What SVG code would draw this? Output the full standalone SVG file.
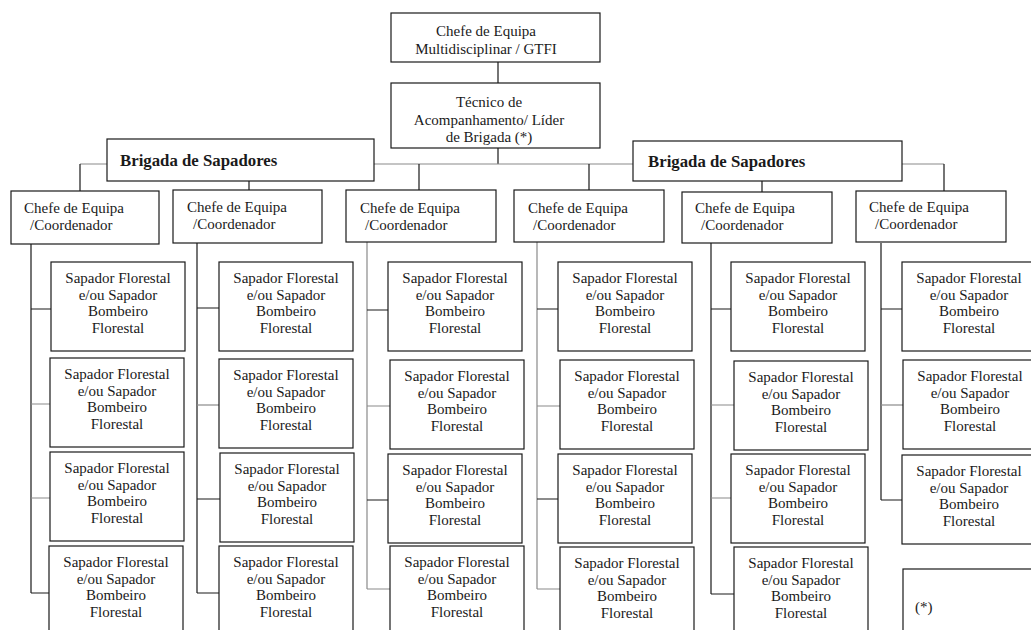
<svg xmlns="http://www.w3.org/2000/svg" width="1031" height="630" viewBox="0 0 1031 630">
<style>
.bx{fill:#fff;stroke:#1a1a1a;stroke-width:1.2}
.t{font-family:"Liberation Serif","Times New Roman",serif;font-size:15px;fill:#1a1a1a}
.m{text-anchor:middle}
.b{font-weight:bold;font-size:16.8px}
.k{stroke:#1a1a1a;stroke-width:1.2;fill:none}
.g{stroke:#8a8a8a;stroke-width:1.2;fill:none}
</style>
<rect width="1031" height="630" fill="#fff"/>
<g id="connectors">
<path class="k" d="M498 62V83M498 148V164"/>
<path class="g" d="M80 164H944"/>
<path class="k" d="M80 164V191M249 181V190M419 164V190M589 164V190M762 181V192M944 164V191"/>
<path class="k" d="M31 244V593M31 309H51M31 593H49"/>
<path class="g" d="M31 404H50M31 498H50"/>
<path class="k" d="M197 243V593M197 308H219M197 499H220M197 593H219"/>
<path class="g" d="M197 405H219"/>
<path class="g" d="M367 242V589M367 406H390M367 589H390"/>
<path class="k" d="M367 310H388M367 500H388"/>
<path class="g" d="M537 242V589M537 406H560M537 589H560"/>
<path class="k" d="M537 309H558M537 499H558"/>
<path class="k" d="M711 243V594M711 309H731M711 594H734"/>
<path class="g" d="M711 405H734M711 498H731"/>
<path class="k" d="M881 243V500M881 309H902M881 500H902"/>
<path class="g" d="M881 405H903"/>
</g>
<g id="chefe-gtfi"><rect class="bx" x="391" y="13" width="209" height="49"/><text class="t m" x="486" y="36">Chefe de Equipa</text><text class="t m" x="486" y="54">Multidisciplinar / GTFI</text></g>
<g id="tecnico"><rect class="bx" x="391" y="83" width="209" height="65"/><text class="t m" x="489" y="107">Técnico de</text><text class="t m" x="489" y="125">Acompanhamento/ Líder</text><text class="t m" x="489" y="142">de Brigada (*)</text></g>
<g id="brigada-1"><rect class="bx" x="107" y="139" width="267" height="42"/><text class="t b" x="120" y="166">Brigada de Sapadores</text></g>
<g id="brigada-2"><rect class="bx" x="633" y="141" width="269" height="40"/><text class="t b" x="648" y="167">Brigada de Sapadores</text></g>
<g id="chefe-1"><rect class="bx" x="11" y="191" width="148" height="53"/><text class="t" x="24" y="213">Chefe de Equipa</text><text class="t" x="30" y="230">/Coordenador</text></g>
<g id="chefe-2"><rect class="bx" x="173" y="190" width="149" height="53"/><text class="t" x="187" y="212">Chefe de Equipa</text><text class="t" x="193" y="229">/Coordenador</text></g>
<g id="chefe-3"><rect class="bx" x="346" y="190" width="150" height="52"/><text class="t" x="360" y="213">Chefe de Equipa</text><text class="t" x="365" y="230">/Coordenador</text></g>
<g id="chefe-4"><rect class="bx" x="514" y="190" width="150" height="52"/><text class="t" x="528" y="213">Chefe de Equipa</text><text class="t" x="533" y="230">/Coordenador</text></g>
<g id="chefe-5"><rect class="bx" x="682" y="192" width="150" height="51"/><text class="t" x="695" y="213">Chefe de Equipa</text><text class="t" x="701" y="230">/Coordenador</text></g>
<g id="chefe-6"><rect class="bx" x="856" y="191" width="150" height="51"/><text class="t" x="869" y="212">Chefe de Equipa</text><text class="t" x="875" y="229">/Coordenador</text></g>
<defs>
<g id="sap"><rect class="bx" x="0" y="0" width="134" height="89"/><text class="t m" x="67" y="21">Sapador Florestal</text><text class="t m" x="67" y="37.5">e/ou Sapador</text><text class="t m" x="67" y="54">Bombeiro</text><text class="t m" x="67" y="70.5">Florestal</text></g>
</defs>
<g id="sap-1-1"><use href="#sap" x="51" y="262"/></g>
<g id="sap-1-2"><use href="#sap" x="50" y="358"/></g>
<g id="sap-1-3"><use href="#sap" x="50" y="452"/></g>
<g id="sap-1-4"><use href="#sap" x="49" y="546"/></g>
<g id="sap-2-1"><use href="#sap" x="219" y="262"/></g>
<g id="sap-2-2"><use href="#sap" x="219" y="359"/></g>
<g id="sap-2-3"><use href="#sap" x="220" y="453"/></g>
<g id="sap-2-4"><use href="#sap" x="219" y="546"/></g>
<g id="sap-3-1"><use href="#sap" x="388" y="262"/></g>
<g id="sap-3-2"><use href="#sap" x="390" y="360"/></g>
<g id="sap-3-3"><use href="#sap" x="388" y="454"/></g>
<g id="sap-3-4"><use href="#sap" x="390" y="546"/></g>
<g id="sap-4-1"><use href="#sap" x="558" y="262"/></g>
<g id="sap-4-2"><use href="#sap" x="560" y="360"/></g>
<g id="sap-4-3"><use href="#sap" x="558" y="454"/></g>
<g id="sap-4-4"><use href="#sap" x="560" y="547"/></g>
<g id="sap-5-1"><use href="#sap" x="731" y="262"/></g>
<g id="sap-5-2"><use href="#sap" x="734" y="361"/></g>
<g id="sap-5-3"><use href="#sap" x="731" y="454"/></g>
<g id="sap-5-4"><use href="#sap" x="734" y="547"/></g>
<g id="sap-6-1"><use href="#sap" x="902" y="262"/></g>
<g id="sap-6-2"><use href="#sap" x="903" y="360"/></g>
<g id="sap-6-3"><use href="#sap" x="902" y="455"/></g>
<g id="nota"><rect class="bx" x="903" y="569" width="134" height="80"/><text class="t" x="915" y="612">(*)</text></g>
</svg>
